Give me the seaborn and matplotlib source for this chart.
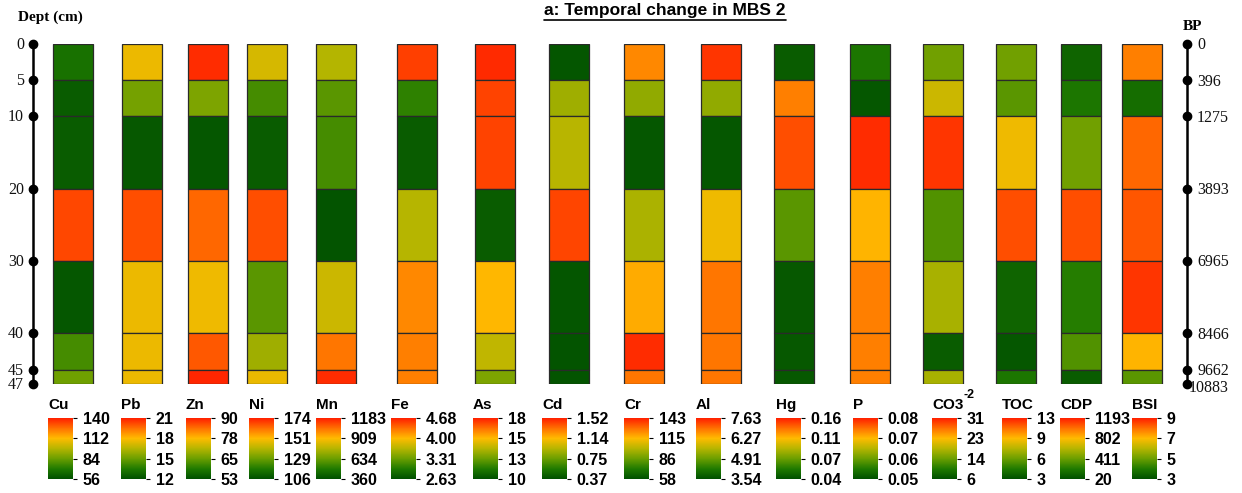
import numpy as np
import matplotlib
matplotlib.use("Agg")
import matplotlib.pyplot as plt
import seaborn as sns
from matplotlib.colors import Normalize
from matplotlib.cm import ScalarMappable
from matplotlib.lines import Line2D

sns.set_theme(style="white")
plt.rcParams["font.family"] = ["Liberation Sans", "DejaVu Sans"]
plt.rcParams["text.color"] = "black"

# ---------------- data ----------------
variables = ["Cu", "Pb", "Zn", "Ni", "Mn", "Fe", "As", "Cd", "Cr", "Al",
             "Hg", "P", "CO3", "TOC", "CDP", "BSI"]
layer_tops = [0, 5, 10, 20, 30, 40, 45]
layer_bottoms = [5, 10, 20, 30, 40, 45, 47]
depth_ticks = [0, 5, 10, 20, 30, 40, 45, 47]
bp_labels = ["0", "396", "1275", "3893", "6965", "8466", "9662", "10883"]

# layer values (0-5, 5-10, 10-20, 20-30, 30-40, 40-45, 45-47 cm)
Cu = [67, 60, 60, 133, 58.5, 77, 85]
Pb = [17.6, 15.2, 12.3, 20.1, 17.6, 17.6, 17.6]
Zn = [88.9, 67, 54.1, 84.5, 76.3, 85.6, 89.3]
Ni = [144.8, 123, 109.4, 167.2, 126.4, 136.6, 148.2]
Mn = [771, 607, 566, 376, 813, 1035, 1158]
Fe = [4.54, 3.04, 2.73, 3.66, 4.23, 4.27, 4.27]
As = [17.8, 17.4, 17.4, 10.4, 15.4, 14.2, 13.0]
Cd = [0.40, 0.89, 0.95, 1.43, 0.40, 0.39, 0.39]
Cr = [124.3, 93.7, 60.6, 98.8, 117.5, 140.5, 127.7]
Al = [7.43, 5.26, 3.66, 6.12, 6.89, 6.89, 6.89]
Hg = [0.046, 0.136, 0.148, 0.076, 0.044, 0.044, 0.044]
P = [0.0545, 0.0509, 0.0791, 0.0704, 0.074, 0.074, 0.074]
CO3 = [14.75, 19.75, 29.75, 13.0, 17.75, 7.25, 17.75]
TOC = [6.5, 6.0, 9.3, 12.0, 3.8, 3.3, 4.5]
CDP = [114, 196, 431, 1076, 231, 348, 79]
BSI = [7.8, 3.7, 8.1, 8.3, 8.7, 7.1, 4.8]
values = [Cu, Pb, Zn, Ni, Mn, Fe, As, Cd, Cr, Al, Hg, P, CO3, TOC, CDP, BSI]

scale_min = [56, 12, 53, 106, 360, 2.63, 10, 0.37, 58, 3.54, 0.04, 0.05, 6, 3, 20, 3]
scale_max = [140, 21, 90, 174, 1183, 4.68, 18, 1.52, 143, 7.63, 0.16, 0.08, 31, 13, 1193, 9]
scale_labels = [
    ["56", "84", "112", "140"], ["12", "15", "18", "21"], ["53", "65", "78", "90"],
    ["106", "129", "151", "174"], ["360", "634", "909", "1183"],
    ["2.63", "3.31", "4.00", "4.68"], ["10", "13", "15", "18"],
    ["0.37", "0.75", "1.14", "1.52"], ["58", "86", "115", "143"],
    ["3.54", "4.91", "6.27", "7.63"], ["0.04", "0.07", "0.11", "0.16"],
    ["0.05", "0.06", "0.07", "0.08"], ["6", "14", "23", "31"], ["3", "6", "9", "13"],
    ["20", "411", "802", "1193"], ["3", "5", "7", "9"],
]

# ---------------- layout ----------------
W, H = 1242, 493
col_centers = [72.5, 142, 207.5, 267, 336, 417, 495, 569, 643.5, 721,
               794, 870, 943, 1016, 1080.5, 1141.5]
col_width = 40
cb_left = [48, 121, 186, 249, 316, 391, 473, 542, 624, 696, 776, 853, 932, 1002, 1060, 1132]

cmap = sns.blend_palette(["#005000", "#1f7a00", "#6a9e00", "#b5b500", "#ffbb00",
                          "#ff7000", "#ff1e00"], as_cmap=True)

fig = plt.figure(figsize=(W / 100, H / 100), dpi=100)
fig.patch.set_facecolor("white")

top_px, bot_px = 44, 384
ax = fig.add_axes([0, (H - bot_px) / H, 1, (bot_px - top_px) / H])
ax.set_xlim(0, W)
ax.set_ylim(47, 0)
ax.axis("off")

heights = [b - t for t, b in zip(layer_tops, layer_bottoms)]
for i, var in enumerate(variables):
    norm = Normalize(scale_min[i], scale_max[i])
    colors = [cmap(norm(v)) for v in values[i]]
    ax.bar([col_centers[i]] * len(heights), heights, bottom=layer_tops,
           width=col_width, color=colors, edgecolor="#2a2a2a", linewidth=0.9)

# left depth axis
serif = ["Liberation Serif", "DejaVu Serif"]
xl = 33
ax.plot([xl, xl], [0, 47], color="black", lw=1.8, clip_on=False)
ax.plot([xl] * len(depth_ticks), depth_ticks, "o", color="black", ms=6, clip_on=False)
for d in depth_ticks:
    ax.text(xl - 9, d + 0.15, str(d), ha="right", va="center", fontsize=11.5,
            family=serif, color="#111111")
fig.text(18 / W, 1 - 17 / H, "Dept (cm)", ha="left", va="center", fontsize=11,
         family=serif, fontweight="bold")

# right BP axis
xr = 1187
ax.plot([xr, xr], [0, 47], color="black", lw=1.8, clip_on=False)
ax.plot([xr] * len(depth_ticks), depth_ticks, "o", color="black", ms=6, clip_on=False)
for d, lab in zip(depth_ticks, bp_labels):
    dx = 2 if lab == "10883" else 10
    ax.text(xr + dx, d + (0.6 if lab == "10883" else 0.2), lab, ha="left", va="center",
            fontsize=11.5, family=serif, color="#111111")
fig.text(1183 / W, 1 - 27 / H, "BP", ha="left", va="center", fontsize=11,
         family=serif, fontweight="bold")

# title
title = fig.text(665 / W, 1 - 10 / H, "a: Temporal change in MBS 2", ha="center",
                 va="center", fontsize=12.5, fontweight="bold", color="black")

# colour scales
cb_bottom, cb_top = 479, 418
for i, var in enumerate(variables):
    cax = fig.add_axes([cb_left[i] / W, (H - cb_bottom) / H, 25 / W, (cb_bottom - cb_top) / H])
    sm = ScalarMappable(norm=Normalize(scale_min[i], scale_max[i]), cmap=cmap)
    ticks = np.linspace(scale_min[i], scale_max[i], 4)
    cb = fig.colorbar(sm, cax=cax, ticks=ticks)
    cb.outline.set_visible(False)
    cb.ax.set_yticklabels(scale_labels[i])
    cb.ax.tick_params(axis="y", right=True, length=3, width=0.8, pad=4, labelsize=11.5,
                      colors="black")
    for t in cb.ax.get_yticklabels():
        t.set_fontweight("bold")
    fig.text(cb_left[i] / W, 1 - 412 / H, var, ha="left", va="bottom",
             fontsize=11, fontweight="bold", color="black")
    if var == "CO3":
        fig.text((cb_left[i] + 31) / W, 1 - 401 / H, "-2", ha="left", va="bottom",
                 fontsize=9, fontweight="bold", color="black")

fig.canvas.draw()
bb = title.get_window_extent(fig.canvas.get_renderer())
y_ul = (bb.y0 - 2) / H
fig.add_artist(Line2D([bb.x0 / W, bb.x1 / W], [y_ul, y_ul], color="black", lw=1.2))

fig.savefig("out.png", dpi=100, facecolor="white")
